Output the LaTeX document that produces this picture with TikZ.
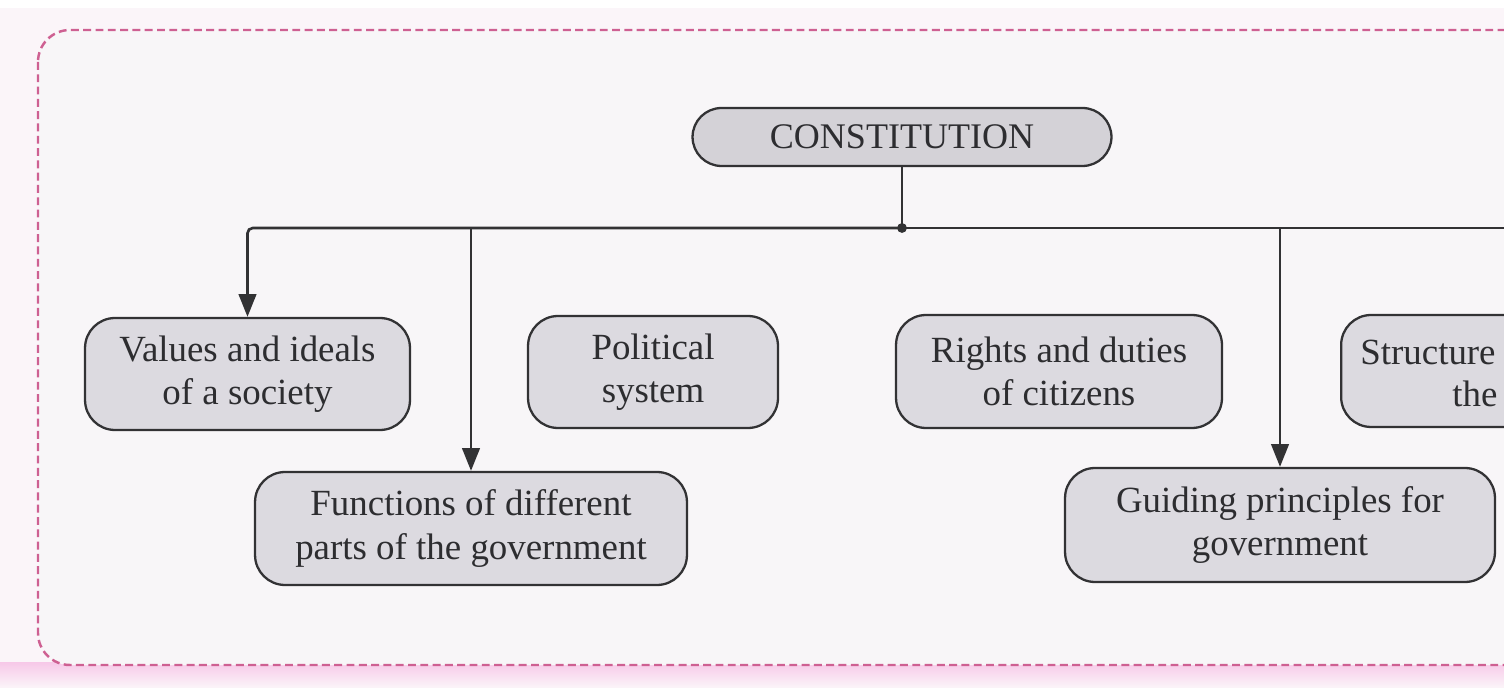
\documentclass[tikz,border=0pt]{standalone}
\usepackage{fontspec}
\setmainfont{Liberation Serif}
\usetikzlibrary{arrows.meta}
\definecolor{bgouter}{RGB}{251,245,249}
\definecolor{bginner}{RGB}{248,246,248}
\definecolor{glow}{RGB}{247,200,232}
\definecolor{dashpink}{RGB}{206,96,146}
\definecolor{boxfill}{RGB}{220,218,224}
\definecolor{constfill}{RGB}{212,210,215}
\definecolor{edgegray}{RGB}{50,50,52}
\definecolor{textgray}{RGB}{45,45,48}
\tikzset{
  boxnode/.style={draw=edgegray, line width=1.3pt, fill=boxfill, rounded corners=0.6cm,
    align=center, inner sep=0pt, text=textgray, font=\fontsize{21}{24.5}\selectfont},
  conn/.style={draw=edgegray, line width=1.5pt},
  arr/.style={conn, -{Triangle[length=13pt,width=10pt]}},
}
\begin{document}
\begin{tikzpicture}[x=0.02cm,y=-0.02cm]
\useasboundingbox (0,0) rectangle (1504,688);
\clip (0,0) rectangle (1504,688);
% background
\fill[bgouter] (0,0) rectangle (1504,688);
\fill[white] (0,0) rectangle (1504,8);
\shade[top color=glow, bottom color=bgouter] (0,662) rectangle (1504,688);
\fill[bginner, rounded corners=0.64cm] (38,30) rectangle (1600,665);
\draw[dashpink, line width=1.4pt, dash pattern=on 4.5pt off 2.5pt, rounded corners=0.64cm]
  (38,30) rectangle (1600,665);
% nodes
\node[boxnode, fill=constfill, rounded corners=0.58cm, minimum width=8.38cm, minimum height=1.16cm,
  font=\fontsize{20.5}{24}\selectfont] (const) at (902,137) {CONSTITUTION};
\node[boxnode, minimum width=6.5cm, minimum height=2.24cm] (values) at (247.5,374) {Values and ideals\\of a society};
\node[boxnode, minimum width=5.0cm, minimum height=2.24cm] (political) at (653,372) {Political\\system};
\node[boxnode, minimum width=6.52cm, minimum height=2.26cm] (rights) at (1059,371.5) {Rights and duties\\of citizens};
\node[boxnode, minimum width=7cm, minimum height=2.24cm, anchor=west] (structure) at (1340,371) {};
\node[anchor=base west, inner sep=0pt, text=textgray, font=\fontsize{21}{24}\selectfont] (structA) at (1360,365) {Structure};
\node[anchor=base west, inner sep=0pt, text=textgray, font=\fontsize{21}{24}\selectfont] (structB) at (1452,407) {the};
\node[boxnode, minimum width=8.64cm, minimum height=2.26cm] (functions) at (471,528.5) {Functions of different\\parts of the government};
\node[boxnode, minimum width=8.6cm, minimum height=2.28cm] (guiding) at (1280,525) {Guiding principles for\\government};
% connectors
\coordinate (j) at (902,228);
\coordinate (rightend) at (1530,228);
\draw[conn] (const.south) -- (j);
\draw[conn] (j) -- (rightend);
\draw[arr, rounded corners=3pt] (j) -| (values.north);
\draw[arr] (functions.north |- j) -- (functions.north);
\draw[arr] (guiding.north |- j) -- (guiding.north);
\fill[edgegray] (j) circle (2.8pt);
\end{tikzpicture}
\end{document}
